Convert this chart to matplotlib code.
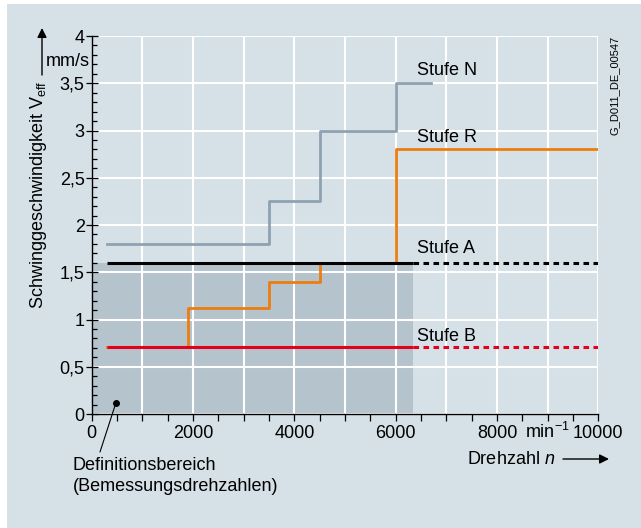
import matplotlib
matplotlib.use("Agg")
import matplotlib.pyplot as plt
from matplotlib.patches import Rectangle
from matplotlib.ticker import MultipleLocator, FuncFormatter

plt.rcParams['font.family'] = ['Liberation Sans', 'DejaVu Sans']
plt.rcParams['mathtext.fontset'] = 'custom'
plt.rcParams['mathtext.rm'] = 'Liberation Sans'
plt.rcParams['mathtext.it'] = 'Liberation Sans:italic'
plt.rcParams['lines.scale_dashes'] = False

# Drehzahl in min^-1, Schwinggeschwindigkeit in mm/s
stufe_n_x = [300, 3500, 4500, 6000, 6700]
stufe_n_v = [1.8, 2.25, 3.0, 3.5, 3.5]
stufe_r_x = [300, 1900, 3500, 4500, 6000, 10000]
stufe_r_v = [0.71, 1.12, 1.4, 1.6, 2.8, 2.8]
stufe_a_v = 1.6
stufe_b_v = 0.71
n_min = 300
n_bemessung = 6350
n_max = 10000
punkt_defbereich = (480, 0.12)

bg = '#d5e0e7'
shade = '#b5c3cd'
c_n = '#8ea2b2'
c_r = '#ee7d0e'
c_b = '#e2001a'

fig = plt.figure(figsize=(6.41, 5.28), dpi=100)
fig.patch.set_facecolor('white')
fig.patches.append(Rectangle((7 / 641, 0), 1 - 7 / 641, 1 - 4 / 528,
                             transform=fig.transFigure, facecolor=bg,
                             edgecolor='none', zorder=-10))

ax = fig.add_axes([0.143, 0.2159, 0.7904, 0.7159])
ax.set_facecolor(bg)
ax.set_xlim(0, n_max)
ax.set_ylim(0, 4)

# Definitionsbereich
ax.fill_between([0, n_bemessung], 0, stufe_a_v, color=shade, lw=0, zorder=0.2)

ax.xaxis.set_major_locator(MultipleLocator(1000))
ax.xaxis.set_minor_locator(MultipleLocator(500))
ax.xaxis.set_major_formatter(FuncFormatter(
    lambda v, p: '%d' % v if int(round(v)) % 2000 == 0 else ''))
ax.yaxis.set_major_locator(MultipleLocator(0.5))
ax.yaxis.set_minor_locator(MultipleLocator(0.1))
ax.yaxis.set_major_formatter(FuncFormatter(
    lambda v, p: ('%g' % v).replace('.', ',')))

ax.grid(True, which='major', color='white', lw=1.5, zorder=0.5)
ax.set_axisbelow(True)
for s in ['top', 'right']:
    ax.spines[s].set_visible(False)
for s in ['left', 'bottom']:
    ax.spines[s].set_linewidth(1.0)
    ax.spines[s].set_zorder(5)

ax.tick_params(axis='x', which='both', direction='out', length=5, width=0.9,
               labelsize=13, pad=3)
ax.tick_params(axis='y', which='major', direction='inout', length=8, width=0.9,
               labelsize=13, pad=1)
ax.tick_params(axis='y', which='minor', direction='in', length=3.5, width=0.9)

ax.step(stufe_n_x, stufe_n_v, where='post', color=c_n, lw=2.0, zorder=2)
ax.step(stufe_r_x, stufe_r_v, where='post', color=c_r, lw=2.0, zorder=3)
ax.plot([n_min, n_bemessung], [stufe_a_v, stufe_a_v], color='black', lw=2.2,
        zorder=4, solid_capstyle='butt')
ax.plot([n_bemessung, n_max], [stufe_a_v, stufe_a_v], color='black', lw=2.2,
        dashes=(4, 3.2), zorder=4)
ax.plot([n_min, n_bemessung], [stufe_b_v, stufe_b_v], color=c_b, lw=2.2,
        zorder=4, solid_capstyle='butt')
ax.plot([n_bemessung, n_max], [stufe_b_v, stufe_b_v], color=c_b, lw=2.2,
        dashes=(4, 3.2), zorder=4)

for name, yv in [('Stufe N', 3.63), ('Stufe R', 2.93), ('Stufe A', 1.75),
                 ('Stufe B', 0.825)]:
    ax.text(6420, yv, name, fontsize=13, ha='left', va='center', zorder=6)

# Hinweis auf den Definitionsbereich
ax.plot(*punkt_defbereich, 'o', color='black', ms=4, zorder=6, clip_on=False)
ax.annotate('', xy=punkt_defbereich, xytext=(100 / 641, 1 - 452 / 528),
            textcoords='figure fraction', annotation_clip=False,
            arrowprops=dict(arrowstyle='-', lw=0.8, color='black',
                            shrinkA=0, shrinkB=0))
fig.text(73 / 641, 1 - 476 / 528,
         'Definitionsbereich\n(Bemessungsdrehzahlen)',
         fontsize=13, ha='left', va='center', linespacing=1.35)

# Achsbeschriftungen
fig.text(39 / 641, 1 - 195 / 528, r'Schwinggeschwindigkeit $\mathrm{V_{eff}}$',
         fontsize=13, rotation=90, ha='center', va='center')
ax.annotate('', xy=(42 / 641, 1 - 28 / 528), xytext=(42 / 641, 1 - 75 / 528),
            xycoords='figure fraction', textcoords='figure fraction',
            arrowprops=dict(arrowstyle='-|>', lw=1.0, color='black',
                            mutation_scale=14, shrinkA=0, shrinkB=0))
fig.text(90 / 641, 1 - 62 / 528, 'mm/s', fontsize=13, ha='right', va='center')

fig.text(467 / 641, 1 - 459 / 528, r'Drehzahl $\mathit{n}$', fontsize=13,
         ha='left', va='center')
ax.annotate('', xy=(609 / 641, 1 - 459 / 528), xytext=(563 / 641, 1 - 459 / 528),
            xycoords='figure fraction', textcoords='figure fraction',
            arrowprops=dict(arrowstyle='-|>', lw=1.0, color='black',
                            mutation_scale=14, shrinkA=0, shrinkB=0))
fig.text(547 / 641, 1 - 432 / 528, r'min$^{-1}$', fontsize=13,
         ha='center', va='center')

fig.text(615 / 641, 1 - 85 / 528, 'G_D011_DE_00547', fontsize=8,
         rotation=90, ha='center', va='center')

fig.savefig('out.png', dpi=100, facecolor=fig.get_facecolor())
